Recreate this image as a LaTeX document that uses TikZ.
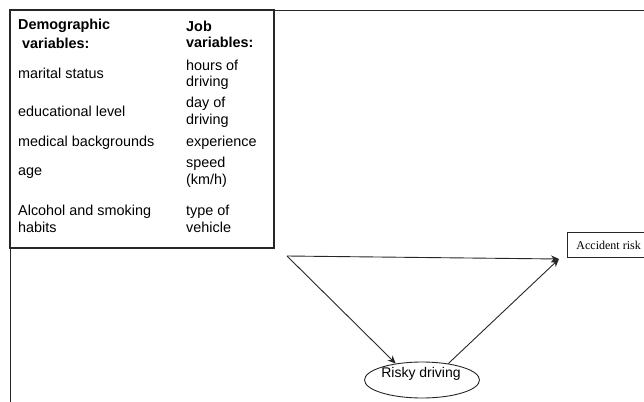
\documentclass[tikz,border=0pt]{standalone}
\usepackage{fontspec}
\setmainfont{Liberation Sans}
\newfontfamily\serifface{Liberation Serif}
\usetikzlibrary{arrows.meta,shapes.geometric}
\begin{document}
\begin{tikzpicture}[x=1pt,y=-1pt,
  lbl/.style={anchor=base west,inner sep=0pt,align=left,
    font=\fontsize{14.4}{16.5}\selectfont},
  hdr/.style={lbl,font=\fontsize{14.4}{16.5}\selectfont\bfseries},
  frame/.style={line width=0.9pt,draw=black!85},
  boxline/.style={line width=1.3pt,draw=black!85},
  link/.style={line width=0.9pt,draw=black!85,
    -{Stealth[length=8pt,width=7pt]}}]
\useasboundingbox (0,0) rectangle (644,401);
% outer frame lines
\draw[frame] (10,10) -- (650,10);
\draw[frame] (10,10) -- (10,405);
% variables box (two-line labels are placed by their last baseline)
\draw[boxline] (10,10) rectangle (274,248);
\node[hdr] (demo1) at (18,30) {Demographic};
\node[hdr] (demo2) at (18,49) {\ variables:};
\node[hdr] (job) at (186,48) {Job\\variables:};
\node[lbl] (d1) at (18,79) {marital status};
\node[lbl] (d2) at (18,116) {educational level};
\node[lbl] (d3) at (18,146) {medical backgrounds};
\node[lbl] (d4) at (18,175) {age};
\node[lbl] (d5) at (18,232) {Alcohol and smoking\\habits};
\node[lbl] (j1) at (186,87) {hours of\\driving};
\node[lbl] (j2) at (186,124) {day of\\driving};
\node[lbl] (j3) at (186,146) {experience};
\node[lbl] (j4) at (186,184) {speed\\(km/h)};
\node[lbl] (j5) at (186,232) {type of\\vehicle};
% outcome box
\node[draw=black!85,line width=0.9pt,anchor=north west,minimum height=25pt,
  inner xsep=9pt,font=\serifface\fontsize{12}{14}\selectfont] (ar) at (567,232)
  {Accident risk};
% mediator
\node[ellipse,draw=black!85,line width=0.9pt,minimum width=115pt,
  minimum height=36pt,inner sep=0pt] (rd) at (422,380) {};
\node[inner sep=0pt,font=\fontsize{14}{16}\selectfont] (rdt) at (421,374) {Risky driving};
% connectors
\coordinate (src) at (287,256);
\coordinate (tip) at (559,259);
\draw[link] (src) -- (tip);
\draw[link] (src) -- (rd.148);
\draw[link] (rd.32) -- (tip);
\end{tikzpicture}
\end{document}
